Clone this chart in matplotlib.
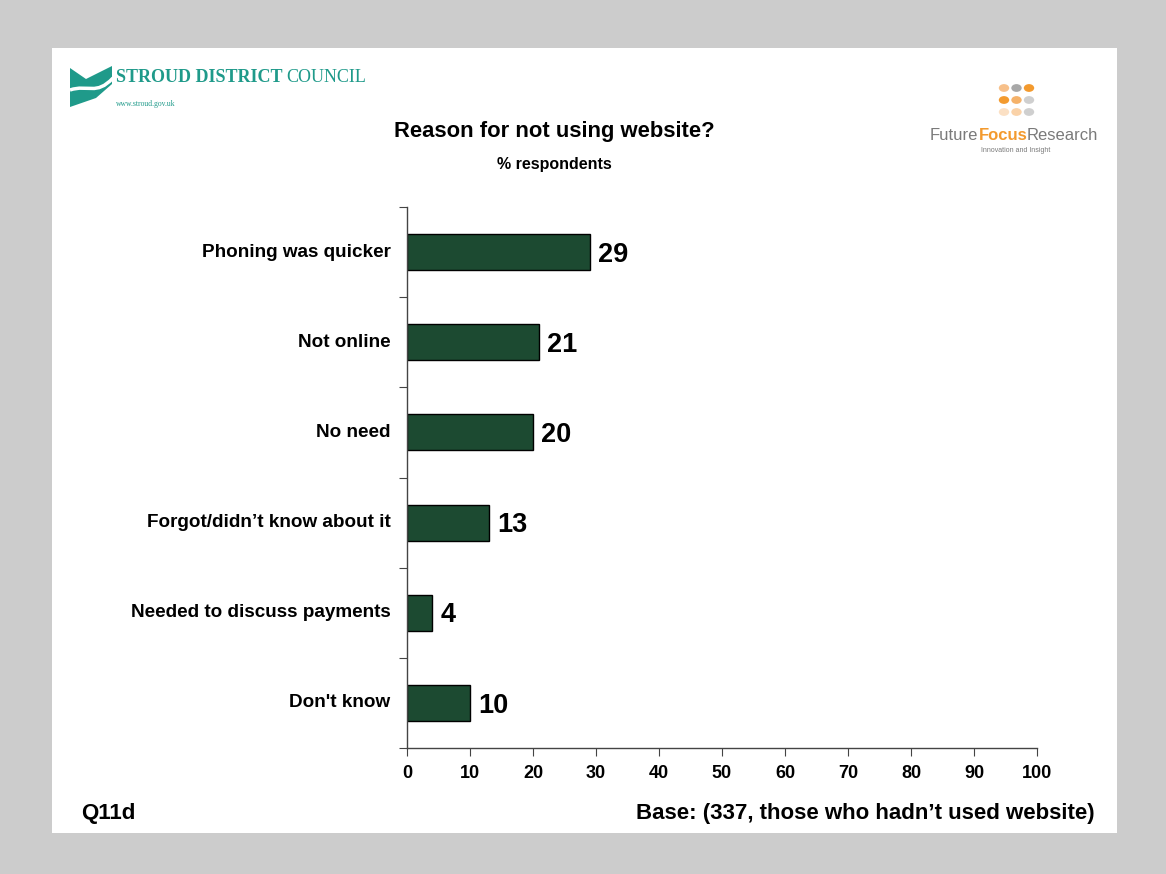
import matplotlib
matplotlib.use("Agg")
import matplotlib.pyplot as plt
from matplotlib.patches import Polygon, Circle
from matplotlib.path import Path
from matplotlib.patches import PathPatch

categories = ["Phoning was quicker", "Not online", "No need",
              "Forgot/didn\u2019t know about it", "Needed to discuss payments",
              "Don't know"]
values = [29, 21, 20, 13, 4, 10]
x_ticks = [0, 10, 20, 30, 40, 50, 60, 70, 80, 90, 100]

BAR = "#1c4a31"
TEAL = "#1f9a8a"
ORANGE = "#f39a2e"
GREY = "#7a7a7a"

fig = plt.figure(figsize=(11.66, 8.74), dpi=100)
fig.patch.set_facecolor("#cccccc")

W, H = 1166, 874
def fx(px):
    return px / W
def fy(py):
    return 1 - py / H

# white slide panel as a background axes
panel = fig.add_axes([fx(52), fy(833), fx(1117) - fx(52), fy(48) - fy(833)],
                     zorder=-5)
panel.set_facecolor("white")
panel.set_xticks([])
panel.set_yticks([])
for s in panel.spines.values():
    s.set_visible(False)

ax = fig.add_axes([fx(407), fy(748), fx(1037) - fx(407), fy(207) - fy(748)],
                  zorder=2)
ax.set_facecolor("none")
n = len(categories)
ypos = list(range(n))
ax.barh(ypos, values, height=0.4, color=BAR, edgecolor="black", linewidth=1.0)
ax.set_ylim(n - 0.5, -0.5)
ax.set_xlim(0, 100)
ax.set_xticks(x_ticks)
ax.set_xticklabels([str(t) for t in x_ticks], fontsize=13, fontweight="bold",
                   family="Liberation Sans")
ax.set_yticks([i - 0.5 for i in range(n + 1)])
ax.set_yticklabels([])
ax.tick_params(axis="y", length=6, width=0.8, color="#444444")
ax.tick_params(axis="x", length=6, width=0.8, color="#444444", pad=6)
for s in ["top", "right"]:
    ax.spines[s].set_visible(False)
for s in ["left", "bottom"]:
    ax.spines[s].set_color("#444444")
    ax.spines[s].set_linewidth(1.0)

for i, (cat, v) in enumerate(zip(categories, values)):
    ax.text(-2.6, i, cat, ha="right", va="center", fontsize=13.6,
            fontweight="bold", family="Liberation Sans")
    ax.text(v + 1.3, i + 0.03, str(v), ha="left", va="center", fontsize=19.5,
            fontweight="bold", family="Liberation Sans")

fig.text(fx(554), fy(131), "Reason for not using website?", ha="center",
         va="center", fontsize=15.8, fontweight="bold", family="Liberation Sans")
fig.text(fx(554), fy(165), "% respondents", ha="center", va="center",
         fontsize=11.5, fontweight="bold", family="Liberation Sans")
fig.text(fx(81), fy(813), "Q11d", ha="left", va="center", fontsize=16,
         fontweight="bold", family="Liberation Sans")
fig.text(fx(1095), fy(813), "Base: (337, those who hadn\u2019t used website)",
         ha="right", va="center", fontsize=16, fontweight="bold",
         family="Liberation Sans")

renderer = fig.canvas.get_renderer()

def text_run(x0, y, pieces):
    """Place differently styled words one after another on a line."""
    x = x0
    for s, kw in pieces:
        t = fig.text(fx(x), fy(y), s, ha="left", va="center", **kw)
        bb = t.get_window_extent(renderer=renderer)
        x += bb.width

# Stroud District Council logo: teal block with a white swoosh
logo = [(70, 68), (86, 79), (112, 66), (112, 84), (96, 98), (70, 107)]
fig.patches.append(Polygon([(fx(x), fy(y)) for x, y in logo], closed=True,
                           transform=fig.transFigure, facecolor=TEAL,
                           edgecolor="none", zorder=3))
swoosh = Path([(fx(70), fy(90)), (fx(88), fy(84)), (fx(96), fy(96)),
               (fx(113), fy(78))],
              [Path.MOVETO, Path.CURVE4, Path.CURVE4, Path.CURVE4])
fig.patches.append(PathPatch(swoosh, transform=fig.transFigure, fill=False,
                             edgecolor="white", linewidth=2.5, zorder=4))
text_run(116, 77, [("STROUD DISTRICT ", dict(fontsize=13, fontweight="bold",
                                             family="Liberation Serif", color=TEAL)),
                   ("COUNCIL", dict(fontsize=13, family="Liberation Serif",
                                    color=TEAL))])
fig.text(fx(116), fy(104), "www.stroud.gov.uk", ha="left", va="center",
         fontsize=5.5, family="Liberation Serif", color=TEAL)

# Future Focus Research logo
dot_cols = [["#f7c08a", "#a8a8a8", ORANGE],
            ["#f39a2e", "#f5b26a", "#cfcfcf"],
            ["#fbe0c4", "#fad2a8", "#cfcfcf"]]
for r in range(3):
    for c in range(3):
        cx, cy = 1004 + c * 12.5, 88 + r * 12
        fig.patches.append(Circle((fx(cx), fy(cy)), 5.2 / W,
                                  transform=fig.transFigure,
                                  facecolor=dot_cols[r][c], edgecolor="none",
                                  zorder=3))
text_run(930, 135, [("Future", dict(fontsize=12, family="Liberation Sans",
                                     color=GREY)),
                    ("Focus", dict(fontsize=12, fontweight="bold",
                                   family="Liberation Sans", color=ORANGE)),
                    ("Research", dict(fontsize=12, family="Liberation Sans",
                                      color=GREY))])
fig.text(fx(1016), fy(150), "Innovation and Insight", ha="center", va="center",
         fontsize=5, family="Liberation Sans", color=GREY)

fig.savefig("out.png", dpi=100, facecolor=fig.get_facecolor())
